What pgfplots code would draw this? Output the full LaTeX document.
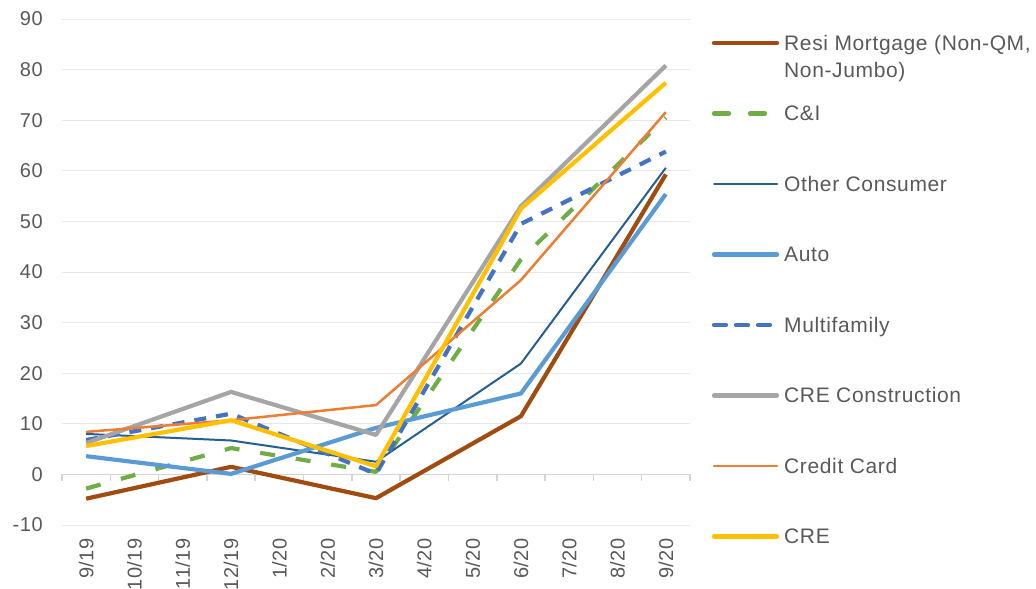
\documentclass[border=0pt]{standalone}
\usepackage{pgfplots}
\pgfplotsset{compat=1.18}
\usepackage{pgfplotstable}
\usepackage{fontspec}
\setmainfont{Liberation Sans}[LetterSpace=3]

\definecolor{txt}{HTML}{595959}
\definecolor{gridc}{HTML}{E8E8E8}
\definecolor{zeroc}{HTML}{D4D4D4}
\definecolor{cresi}{HTML}{A04B10}
\definecolor{cci}{HTML}{70AD47}
\definecolor{cother}{HTML}{255E91}
\definecolor{cauto}{HTML}{5B9BD5}
\definecolor{cmulti}{HTML}{4472C4}
\definecolor{ccrecon}{HTML}{A5A5A5}
\definecolor{ccc}{HTML}{ED7D31}
\definecolor{ccre}{HTML}{FFC000}

% quarterly readings, x = month index from 9/19
\pgfplotstableread{
x   resi  ci    other auto  multi crecon cc    cre
0   -4.8  -2.8  8.0   3.6   6.8   6.2    8.4   5.6
3   1.5   5.2   6.7   0.1   12.0  16.3   10.7  10.7
6   -4.7  0.5   2.5   9.2   0.1   7.8    13.7  1.6
9   11.5  42.5  21.9  16.0  49.5  53.0   38.4  52.5
12  59.3  70.5  60.6  55.4  63.8  80.8   71.6  77.4
}\data

\tikzset{
  sresi/.style={draw=cresi, line width=4.2bp},
  sci/.style={draw=cci, line width=4.2bp, dash pattern=on 15bp off 21bp},
  sother/.style={draw=cother, line width=2bp},
  sauto/.style={draw=cauto, line width=4.2bp},
  smulti/.style={draw=cmulti, line width=4.2bp, dash pattern=on 12bp off 10bp},
  screcon/.style={draw=ccrecon, line width=4.2bp},
  scc/.style={draw=ccc, line width=2.5bp},
  scre/.style={draw=ccre, line width=4.2bp},
  legtxt/.style={anchor=base west, inner sep=0pt, text=txt, font=\fontsize{21bp}{25bp}\selectfont},
}

\begin{document}
\begin{tikzpicture}[line cap=round, line join=round]
\path[use as bounding box] (0bp,0bp) rectangle (1036bp,589bp);
\begin{axis}[
  at={(62bp,64bp)}, anchor=south west,
  scale only axis, width=628bp, height=506bp,
  xmin=-0.5, xmax=12.5, ymin=-10, ymax=90,
  axis line style={draw=none},
  major tick length=0pt,
  ytick={-10,0,...,90},
  yticklabels={-10,0,10,20,30,40,50,60,70,80,90},
  xtick={0,...,12},
  xticklabels={9/19,10/19,11/19,12/19,1/20,2/20,3/20,4/20,5/20,6/20,7/20,8/20,9/20},
  ymajorgrids,
  grid style={draw=gridc, line width=1bp},
  tick label style={text=txt, font=\fontsize{20bp}{24bp}\selectfont},
  xticklabel style={rotate=90, anchor=east, inner sep=0pt},
  xticklabel shift=13bp,
  yticklabel style={anchor=east, inner sep=0pt},
  yticklabel shift=19bp,
  clip=false,
]
% zero line with category separators
\draw[zeroc, line width=1.5bp, line cap=butt] (axis cs:-0.5,0) -- (axis cs:12.5,0);
\pgfplotsinvokeforeach{-0.5,0.5,1.5,2.5,3.5,4.5,5.5,6.5,7.5,8.5,9.5,10.5,11.5,12.5}{
  \draw[zeroc, line width=1.5bp, line cap=butt] (axis cs:#1,0) -- ([yshift=-7bp]axis cs:#1,0);
}
\addplot[sresi] table[x=x, y=resi]{\data};
\addplot[sci] table[x=x, y=ci]{\data};
\addplot[sother] table[x=x, y=other]{\data};
\addplot[sauto] table[x=x, y=auto]{\data};
\addplot[smulti] table[x=x, y=multi]{\data};
\addplot[screcon] table[x=x, y=crecon]{\data};
\addplot[scc] table[x=x, y=cc]{\data};
\addplot[scre] table[x=x, y=cre]{\data};
\end{axis}

% legend
\draw[sresi]   (714bp,546bp)   -- (777bp,546bp);
\draw[sci]     (714bp,475.5bp) -- (777bp,475.5bp);
\draw[sother]  (714bp,405bp)   -- (777bp,405bp);
\draw[sauto]   (714bp,334.5bp) -- (777bp,334.5bp);
\draw[smulti]  (714bp,264bp)   -- (777bp,264bp);
\draw[screcon] (714bp,193.5bp) -- (777bp,193.5bp);
\draw[scc]     (714bp,123bp)   -- (777bp,123bp);
\draw[scre]    (714bp,52.5bp)  -- (777bp,52.5bp);

\node[legtxt] at (784bp,538.5bp) {Resi Mortgage (Non-QM,};
\node[legtxt] at (784bp,511.5bp) {Non-Jumbo)};
\node[legtxt] at (784bp,468bp)   {C\&I};
\node[legtxt] at (784bp,397.5bp) {Other Consumer};
\node[legtxt] at (784bp,327bp)   {Auto};
\node[legtxt] at (784bp,256.5bp) {Multifamily};
\node[legtxt] at (784bp,186bp)   {CRE Construction};
\node[legtxt] at (784bp,115.5bp) {Credit Card};
\node[legtxt] at (784bp,45bp)    {CRE};
\end{tikzpicture}
\end{document}
